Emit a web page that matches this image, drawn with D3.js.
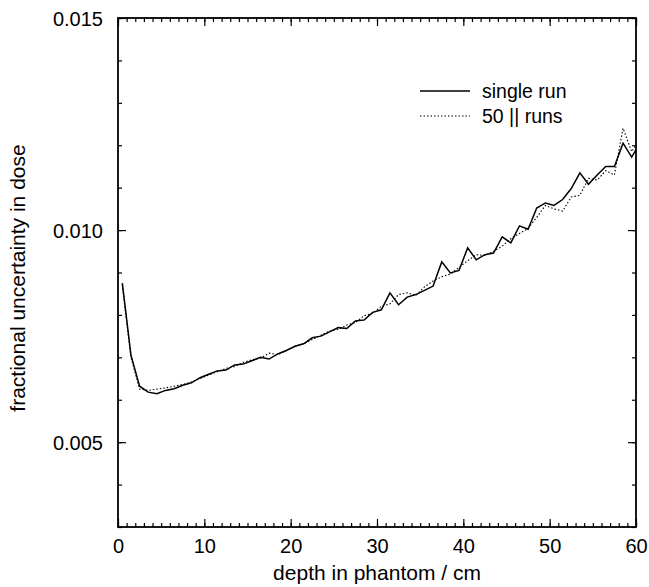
<!DOCTYPE html>
<html>
<head>
<meta charset="utf-8">
<script src="https://cdn.jsdelivr.net/npm/d3@7"></script>
<style>
  body { margin: 0; background: #fff; }
  text { font-family: "Liberation Sans", Arial, sans-serif; fill: #000; }
</style>
</head>
<body>
<svg id="chart" width="649" height="587"></svg>
<script>
// depth bins (cm) and fractional uncertainty
var depth = [0.5, 1.5, 2.5, 3.5, 4.5, 5.5, 6.5, 7.5, 8.5, 9.5,
    10.5, 11.5, 12.5, 13.5, 14.5, 15.5, 16.5, 17.5, 18.5, 19.5,
    20.5, 21.5, 22.5, 23.5, 24.5, 25.5, 26.5, 27.5, 28.5, 29.5,
    30.5, 31.5, 32.5, 33.5, 34.5, 35.5, 36.5, 37.5, 38.5, 39.5,
    40.5, 41.5, 42.5, 43.5, 44.5, 45.5, 46.5, 47.5, 48.5, 49.5,
    50.5, 51.5, 52.5, 53.5, 54.5, 55.5, 56.5, 57.5, 58.5, 59.5, 60];

var singleRun = [0.00875, 0.00705, 0.00632, 0.00618, 0.00614, 0.00622, 0.00626, 0.00634, 0.00640, 0.00652,
    0.00660, 0.00668, 0.00670, 0.00682, 0.00684, 0.00692, 0.00700, 0.00696, 0.00708, 0.00716,
    0.00726, 0.00732, 0.00746, 0.00750, 0.00760, 0.00770, 0.00768, 0.00786, 0.00788, 0.00806,
    0.00812, 0.00852, 0.00824, 0.00842, 0.00848, 0.00858, 0.00868, 0.00925, 0.00899, 0.00905,
    0.00958, 0.00930, 0.00942, 0.00946, 0.00984, 0.00970, 0.01010, 0.01002, 0.01052, 0.01064,
    0.01058, 0.01072, 0.01098, 0.01135, 0.01108, 0.01130, 0.01150, 0.01150, 0.01205, 0.01172, 0.01189];

var parallelRuns = [0.00870, 0.00700, 0.00625, 0.00622, 0.00625, 0.00628, 0.00632, 0.00636, 0.00642, 0.00650,
    0.00658, 0.00666, 0.00674, 0.00678, 0.00688, 0.00694, 0.00698, 0.00710, 0.00706, 0.00716,
    0.00726, 0.00732, 0.00742, 0.00752, 0.00762, 0.00766, 0.00776, 0.00782, 0.00798, 0.00804,
    0.00820, 0.00826, 0.00848, 0.00852, 0.00846, 0.00866, 0.00880, 0.00890, 0.00896, 0.00912,
    0.00928, 0.00942, 0.00940, 0.00950, 0.00962, 0.00980, 0.00992, 0.01004, 0.01030, 0.01058,
    0.01050, 0.01045, 0.01078, 0.01082, 0.01122, 0.01118, 0.01140, 0.01130, 0.01240, 0.01185, 0.01200];

var xTicks = [0, 10, 20, 30, 40, 50, 60];
var yTicks = [0.005, 0.010, 0.015];
var seriesNames = ["single run", "50 || runs"];

const margin = {top: 18, right: 13, bottom: 60, left: 118};
const width = 649 - margin.left - margin.right;
const height = 587 - margin.top - margin.bottom;

const svg = d3.select("#chart");
const g = svg.append("g").attr("transform", `translate(${margin.left},${margin.top})`);

const x = d3.scaleLinear().domain([0, 60]).range([0, width]);
const y = d3.scaleLinear().domain([0.003, 0.015]).range([height, 0]);

// ticks point inward, minor ones every 1 cm / 0.001
function tickAxis(axisFn, scale, major, minor, len, minLen) {
    return {
        major: axisFn(scale).tickValues(major).tickSizeInner(-len).tickSizeOuter(0),
        minor: axisFn(scale).tickValues(minor).tickSizeInner(-minLen).tickSizeOuter(0).tickFormat("")
    };
}
const xMinor = d3.range(0, 61, 1);
const yMinor = d3.range(0.003, 0.0151, 0.001);

function drawAxis(sel, axes) {
    sel.append("g").call(axes.minor);
    let a = sel.append("g").call(axes.major);
    sel.selectAll("path.domain").remove();
    sel.selectAll("line").attr("stroke", "#000").attr("stroke-width", 1.2);
    return a;
}

let axBottom = g.append("g").attr("transform", `translate(0,${height})`);
let bx = drawAxis(axBottom, tickAxis(d3.axisBottom, x, xTicks, xMinor, 8, 4));
bx.selectAll("text").attr("y", 26).attr("dy", 0).style("font-size", "20px").text(d => d);

let axTop = g.append("g");
drawAxis(axTop, tickAxis(d3.axisTop, x, xTicks, xMinor, 8, 4));
axTop.selectAll("text").remove();

let axLeft = g.append("g");
let ly = drawAxis(axLeft, tickAxis(d3.axisLeft, y, yTicks, yMinor, 8, 4));
ly.selectAll("text").attr("x", -15).attr("dy", "0.36em").style("font-size", "20px")
    .text(d => d3.format(".3f")(d));

let axRight = g.append("g").attr("transform", `translate(${width},0)`);
drawAxis(axRight, tickAxis(d3.axisRight, y, yTicks, yMinor, 8, 4));
axRight.selectAll("text").remove();

// frame
g.append("rect").attr("width", width).attr("height", height)
    .attr("fill", "none").attr("stroke", "#000").attr("stroke-width", 1.8);

const line = d3.line().x((d, i) => x(depth[i])).y(d => y(d));

g.append("path").datum(parallelRuns)
    .attr("fill", "none").attr("stroke", "#000").attr("stroke-width", 1.1)
    .attr("stroke-dasharray", "1.5,2").attr("d", line);

g.append("path").datum(singleRun)
    .attr("fill", "none").attr("stroke", "#000").attr("stroke-width", 1.5)
    .attr("d", line);

// legend
const legend = g.append("g").attr("transform", "translate(302,73)");
seriesNames.forEach(function (name, i) {
    let row = legend.append("g").attr("transform", `translate(0,${i * 25})`);
    row.append("line").attr("x1", 0).attr("x2", 50)
        .attr("stroke", "#000")
        .attr("stroke-width", i == 0 ? 1.5 : 1.1)
        .attr("stroke-dasharray", i == 0 ? null : "1.5,2");
    row.append("text").attr("x", 62).attr("dy", "0.35em")
        .style("font-size", "19.5px").text(name);
});

// axis titles
svg.append("text")
    .attr("x", margin.left + width / 2).attr("y", 580)
    .attr("text-anchor", "middle").style("font-size", "21px")
    .text("depth in phantom / cm");

svg.append("text")
    .attr("transform", `translate(25,278) rotate(-90)`)
    .attr("text-anchor", "middle").style("font-size", "21px")
    .text("fractional uncertainty in dose");
</script>
</body>
</html>
